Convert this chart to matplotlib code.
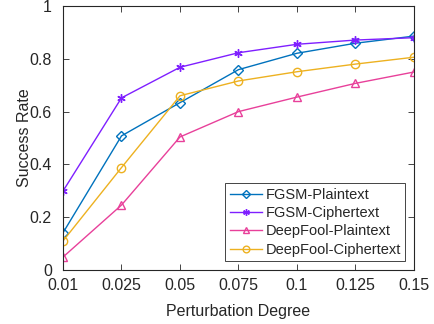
import matplotlib
matplotlib.use("Agg")
import matplotlib.pyplot as plt

plt.rcParams['font.family'] = ['Liberation Sans', 'DejaVu Sans']

x_labels = ['0.01', '0.025', '0.05', '0.075', '0.1', '0.125', '0.15']
fgsm_plain = [0.141, 0.508, 0.634, 0.759, 0.821, 0.859, 0.886]
fgsm_cipher = [0.299, 0.652, 0.768, 0.823, 0.855, 0.871, 0.880]
deepfool_plain = [0.049, 0.246, 0.504, 0.600, 0.655, 0.707, 0.750]
deepfool_cipher = [0.110, 0.388, 0.660, 0.716, 0.751, 0.780, 0.806]

c_blue = '#0072BD'
c_purple = '#7F1FFF'
c_pink = '#E8409A'
c_yellow = '#EDB120'
txt = '#262626'

fig = plt.figure(figsize=(4.35, 3.24), dpi=100)
ax = fig.add_axes([63/435, 54/324, (414-63)/435, (270-6)/324])

xs = list(range(len(x_labels)))
ax.plot(xs, fgsm_plain, color=c_blue, lw=1.0, marker='D', ms=5, mfc='none', mew=1.0, label='FGSM-Plaintext')
ax.plot(xs, fgsm_cipher, color=c_purple, lw=1.0, marker=(6, 2, 0), ms=6, mew=1.0, label='FGSM-Ciphertext')
ax.plot(xs, deepfool_plain, color=c_pink, lw=1.0, marker='^', ms=6, mfc='none', mew=1.0, label='DeepFool-Plaintext')
ax.plot(xs, deepfool_cipher, color=c_yellow, lw=1.0, marker='o', ms=6, mfc='none', mew=1.0, label='DeepFool-Ciphertext')

ax.set_xlim(0, len(x_labels) - 1)
ax.set_ylim(0, 1)
ax.set_xticks(xs)
ax.set_xticklabels(x_labels)
ax.set_yticks([0, 0.2, 0.4, 0.6, 0.8, 1])
ax.set_yticklabels(['0', '0.2', '0.4', '0.6', '0.8', '1'])
ax.tick_params(direction='in', top=True, right=True, labelsize=11.5, colors=txt, length=4, width=0.6)
ax.tick_params(axis='x', pad=6)
ax.tick_params(axis='y', pad=8)
for s in ax.spines.values():
    s.set_color(txt)
    s.set_linewidth(0.8)

ax.set_xlabel('Perturbation Degree', fontsize=11.5, color=txt, labelpad=8)
ax.set_ylabel('Success Rate', fontsize=11.5, color=txt, labelpad=-1.5)

leg = ax.legend(loc='lower right', fontsize=10.5, frameon=True, fancybox=False,
                edgecolor=txt, framealpha=1, borderpad=0.3, labelspacing=0.3,
                handlelength=2.2, handletextpad=0.25, borderaxespad=0.6,
                markerscale=0.8)
leg.get_frame().set_linewidth(0.6)
for t in leg.get_texts():
    t.set_color(txt)

fig.savefig('out.png', dpi=100)
